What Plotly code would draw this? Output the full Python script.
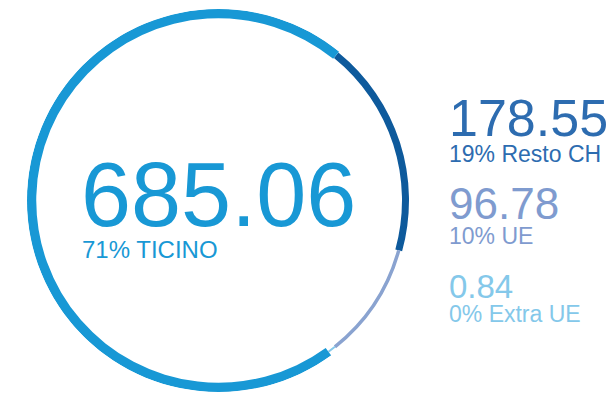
import numpy as np
import plotly.graph_objects as go

# data
labels = ["Resto CH", "UE", "Extra UE", "TICINO"]
values = [178.55, 96.78, 0.84, 685.06]
colors = ["#0e5a9c", "#8aa3d0", "#84c8ea", "#1898d5"]
text_colors = ["#2d6cb0", "#7f9bcf", "#84c8ea", "#1898d5"]

W, H = 614, 401
PAGE = 8            # default body margin of the html page
START = 39          # where Resto CH begins, degrees clockwise from top
MIN_DEG = 2.5       # keep tiny slices visible

total = sum(values)
share = np.array(values) / total
deg = np.maximum(share * 360, MIN_DEG)
deg = deg * 360 / deg.sum()
theta = START + np.cumsum(deg) - deg / 2

# ring thickness per slice (fraction of outer radius)
thick = np.array([0.0366, 0.0183, 0.0104, 0.0496])
mid = 0.9765
base = mid - thick / 2

fig = go.Figure()
fig.add_trace(go.Barpolar(
    r=thick,
    base=base,
    theta=theta,
    width=deg,
    marker=dict(color=colors, line=dict(width=0)),
    hoverinfo="skip",
))


# screen pixels -> paper fraction
def px(x):
    return (x - PAGE) / W


def py(y):
    return 1 - (y - PAGE) / H


# circle: centre (218.5, 200.5), outer radius 191.5 px
cx, cy, R = 218.5, 200.5, 191.5
fig.update_layout(
    width=W, height=H,
    margin=dict(l=0, r=0, t=0, b=0),
    paper_bgcolor="white",
    showlegend=False,
    font=dict(family="Liberation Sans, Arial, sans-serif"),
    polar=dict(
        domain=dict(x=[px(cx - R), px(cx + R)], y=[py(cy + R), py(cy - R)]),
        bgcolor="white",
        radialaxis=dict(visible=False, range=[0, 1]),
        angularaxis=dict(visible=False, direction="clockwise", rotation=90),
    ),
)

pct = [f"{round(s * 100):.0f}%" for s in share]

annos = []
# big centre label (TICINO)
i = 3
annos.append(dict(x=px(79), y=py(195), text=f"{values[i]:.2f}",
                  font=dict(size=90, color=text_colors[i])))
annos.append(dict(x=px(80), y=py(249), text=f"{pct[i]} {labels[i]}",
                  font=dict(size=24, color=text_colors[i])))

# right column
rows = [(0, 118, 52, 154), (1, 203, 44, 236), (2, 286.5, 33, 313.5)]
for i, yv, size, yl in rows:
    annos.append(dict(x=px(447), y=py(yv), text=f"{values[i]:.2f}",
                      font=dict(size=size, color=text_colors[i])))
    annos.append(dict(x=px(447), y=py(yl), text=f"{pct[i]} {labels[i]}",
                      font=dict(size=23, color=text_colors[i])))

for a in annos:
    a.update(xref="paper", yref="paper", xanchor="left", yanchor="middle",
             showarrow=False)
fig.update_layout(annotations=annos)

fig.write_html("out.html")
